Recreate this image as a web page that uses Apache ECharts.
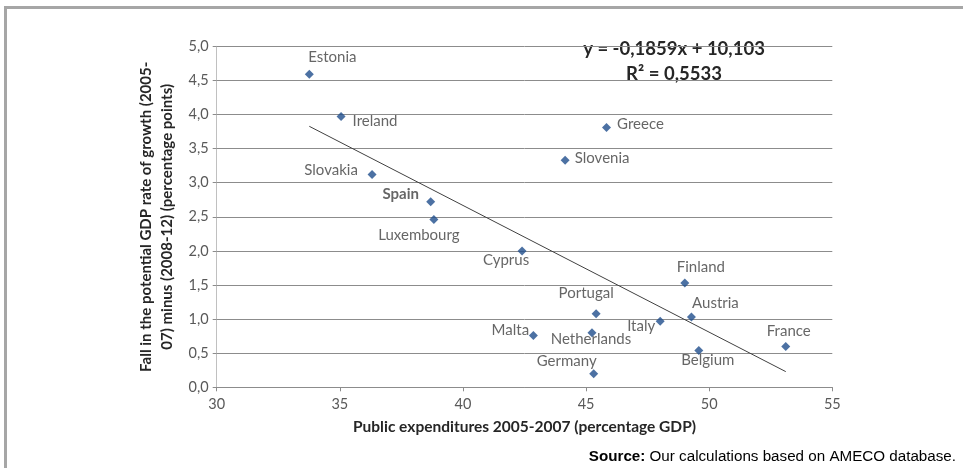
<!DOCTYPE html>
<html>
<head>
<meta charset="utf-8">
<script src="https://cdn.jsdelivr.net/npm/echarts@6/dist/echarts.min.js"></script>
<style>
  html, body { margin: 0; padding: 0; background: #fff; }
  #wrap { position: relative; width: 963px; height: 468px; overflow: hidden; }
  #frame { position: absolute; left: 4px; top: 6px; right: -10px; bottom: -10px;
           border-left: 3px solid #a6a6a6; border-top: 3px solid #a6a6a6; }
  #chart { position: absolute; left: 0; top: 0; width: 963px; height: 468px; }
</style>
</head>
<body>
<div id="wrap">
  <div id="frame"></div>
  <div id="chart"></div>
</div>
<script>
// Public expenditure (% GDP, 2005-2007) vs fall in potential growth (pp)
const countries = ['Estonia', 'Ireland', 'Slovakia', 'Spain', 'Luxembourg', 'Greece', 'Slovenia',
  'Cyprus', 'Finland', 'Portugal', 'Austria', 'Italy', 'Malta', 'Netherlands', 'France', 'Belgium', 'Germany'];
const expenditure = [33.76, 35.05, 36.31, 38.69, 38.82, 45.83, 44.15,
  42.40, 49.01, 45.41, 49.28, 48.01, 42.86, 45.24, 53.11, 49.58, 45.31];
const potentialFall = [4.59, 3.97, 3.12, 2.72, 2.46, 3.81, 3.33,
  2.00, 1.53, 1.08, 1.03, 0.97, 0.76, 0.80, 0.60, 0.54, 0.20];

// Linear trend fitted to the sample
const trendSlope = -0.1859;
const trendIntercept = 10.103;
const trendR2 = 0.5533;

// Axis ranges
const xMin = 30, xMax = 55, xStep = 5;
const yMin = 0, yMax = 5, yStep = 0.5;

// Label placement around each marker (px offset of label centre)
const labelOffset = {
  Estonia: [23, -17], Ireland: [34, 5], Slovakia: [-41, -4], Spain: [-30, -8],
  Luxembourg: [-15, 16], Greece: [34, -3], Slovenia: [37, -2], Cyprus: [-16, 9],
  Finland: [16, -16], Portugal: [-10, -20], Austria: [24, -14], Italy: [-19, 5],
  Malta: [-23, -5], Netherlands: [-1, 6], France: [3, -15], Belgium: [9, 10],
  Germany: [-27, -13]
};
const boldLabels = ['Spain'];

const comma = (v, d) => v.toFixed(d).replace('.', ',');

const pointData = countries.map((c, i) => ({
  name: c,
  value: [expenditure[i], potentialFall[i]],
  label: {
    offset: labelOffset[c],
    fontWeight: boldLabels.includes(c) ? 'bold' : 'normal'
  }
}));

const xLo = Math.min(...expenditure), xHi = Math.max(...expenditure);
const trendData = [
  [xLo, trendSlope * xLo + trendIntercept],
  [xHi, trendSlope * xHi + trendIntercept]
];

const fmtSigned = (v, d) => (v < 0 ? '-' : '') + comma(Math.abs(v), d);
const eqLine1 = 'y = ' + fmtSigned(trendSlope, 4) + 'x + ' + comma(trendIntercept, 3);
const eqLine2 = 'R\u00B2 = ' + comma(trendR2, 4);

const chart = echarts.init(document.getElementById('chart'), null, { renderer: 'canvas' });
const labelFont = 'Lato, "Open Sans", sans-serif';

chart.setOption({
  animation: false,
  grid: { left: 216.7, right: 130.7, top: 46.3, bottom: 80.7, containLabel: false },
  xAxis: {
    type: 'value', min: xMin, max: xMax, interval: xStep,
    name: 'Public expenditures 2005-2007 (percentage GDP)',
    nameLocation: 'middle', nameGap: 32,
    nameTextStyle: { fontFamily: labelFont, fontWeight: 'bold', fontSize: 15.5, color: '#262626' },
    axisLine: { lineStyle: { color: '#8c8c8c', width: 1 } },
    axisTick: { show: true, length: 4, lineStyle: { color: '#8c8c8c' } },
    axisLabel: { fontFamily: labelFont, fontSize: 14.5, color: '#595959', margin: 10 },
    splitLine: { show: false }
  },
  yAxis: {
    type: 'value', min: yMin, max: yMax, interval: yStep,
    name: 'Fall in the potential GDP rate of growth (2005-\n07) minus (2008-12) (percentage points)',
    nameLocation: 'middle', nameRotate: 90, nameGap: 27,
    nameTextStyle: { fontFamily: labelFont, fontWeight: 'bold', fontSize: 15, color: '#262626', lineHeight: 21 },
    axisLine: { show: true, lineStyle: { color: '#c0c0c0', width: 1 } },
    axisTick: { show: true, length: 4, lineStyle: { color: '#8c8c8c' } },
    axisLabel: { fontFamily: labelFont, fontSize: 14.5, color: '#595959', margin: 8,
      formatter: v => comma(v, 1) },
    splitLine: { show: true, lineStyle: { color: '#8c8c8c', width: 1 } }
  },
  series: [
    {
      type: 'line', data: trendData, symbol: 'none', silent: true,
      lineStyle: { color: '#404040', width: 1 }, z: 2
    },
    {
      type: 'scatter', data: pointData, symbol: 'diamond', symbolSize: 9,
      itemStyle: { color: '#1f4e8c' }, z: 3,
      label: {
        show: true, position: 'inside', formatter: '{b}',
        align: 'center', verticalAlign: 'middle',
        fontFamily: labelFont, fontSize: 15, color: '#404040'
      }
    }
  ],
  graphic: [
    {
      type: 'text', x: 674, y: 62,
      style: {
        text: eqLine1 + '\n' + eqLine2, x: 0, y: 0,
        align: 'center', verticalAlign: 'middle',
        font: 'bold 18.5px ' + labelFont, fill: '#262626', lineHeight: 25
      }
    },
    {
      type: 'text', x: 956, y: 457,
      style: {
        text: '{b|Source:} Our calculations based on AMECO database.',
        align: 'right', verticalAlign: 'middle',
        rich: {
          b: { font: 'bold 15.2px "Liberation Sans", Arial, sans-serif', fill: '#000' }
        },
        font: '15.2px "Liberation Sans", Arial, sans-serif', fill: '#000'
      }
    }
  ]
});
</script>
</body>
</html>
